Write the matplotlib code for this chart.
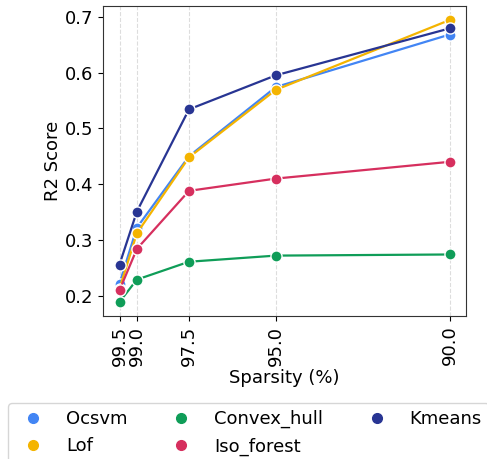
import matplotlib
matplotlib.use("Agg")
import matplotlib.pyplot as plt
from matplotlib.lines import Line2D

sparsity = [99.5, 99.0, 97.5, 95.0, 90.0]
ocsvm = [0.222, 0.322, 0.450, 0.574, 0.668]
lof = [0.213, 0.312, 0.448, 0.569, 0.694]
convex_hull = [0.189, 0.229, 0.261, 0.272, 0.274]
iso_forest = [0.210, 0.284, 0.388, 0.410, 0.440]
kmeans = [0.256, 0.351, 0.534, 0.595, 0.679]

names = ["Ocsvm", "Lof", "Convex_hull", "Iso_forest", "Kmeans"]
series = [ocsvm, lof, convex_hull, iso_forest, kmeans]
colors = ["#4285F4", "#F4B400", "#0F9D58", "#D62F5E", "#283593"]

plt.rcParams['font.size'] = 13

fig = plt.figure(figsize=(4.87, 4.59), dpi=100)
ax = fig.add_axes([0.2115, 0.3115, 0.7455, 0.6755])

for name, vals, c in zip(names, series, colors):
    ax.plot(sparsity, vals, "-o", color=c, lw=1.6, ms=8,
            markeredgecolor="white", markeredgewidth=1, label=name)

ax.set_xticks(sparsity)
ax.set_xticklabels([f"{s:.1f}" for s in sparsity], rotation=90)
ax.invert_xaxis()
ax.grid(axis="x", linestyle="--", color="#dddddd", lw=0.8)
ax.set_axisbelow(True)
ax.set_xlabel("Sparsity (%)", labelpad=2)
ax.set_ylabel("R2 Score", labelpad=2)
for sp in ax.spines.values():
    sp.set_color("#333333")

handles = [Line2D([], [], ls="", marker="o", color=c, ms=7) for c in colors]
fig.legend(handles, names, ncol=3, loc="upper left", borderaxespad=0,
           bbox_to_anchor=(8 / 487, 1 - 403 / 459), frameon=True)

fig.savefig("out.png", dpi=100)
